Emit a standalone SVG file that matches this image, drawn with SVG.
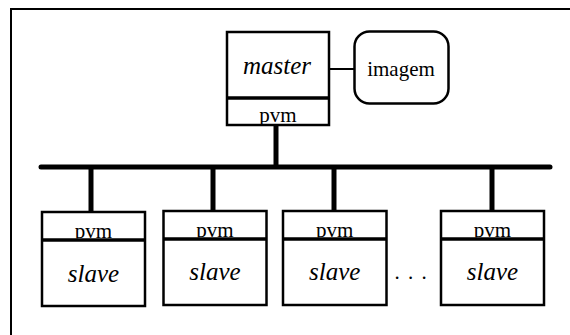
<svg xmlns="http://www.w3.org/2000/svg" width="570" height="335" viewBox="0 0 570 335">
<style>
.box{fill:#fff;stroke:#000;stroke-width:2.5}
.div{stroke:#000;stroke-width:3.5}
.wire{stroke:#000;stroke-width:5;fill:none}
.it{font-family:'Liberation Serif',serif;font-style:italic;font-size:25px;text-anchor:middle}
.rm{font-family:'Liberation Serif',serif;font-size:21px;text-anchor:middle}
</style>
<defs>
<clipPath id="cm"><rect x="228" y="99" width="100" height="25"/></clipPath>
<clipPath id="c1"><rect x="43" y="213" width="101" height="25.5"/></clipPath>
<clipPath id="c2"><rect x="164.5" y="212" width="101" height="25.5"/></clipPath>
<clipPath id="c3"><rect x="284" y="212" width="101.5" height="25.5"/></clipPath>
<clipPath id="c4"><rect x="442" y="212" width="101" height="25.5"/></clipPath>
</defs>
<rect x="11" y="9" width="600" height="400" fill="none" stroke="#000" stroke-width="2"/>
<g id="connectors">
<line x1="329" y1="69" x2="354.5" y2="69" stroke="#000" stroke-width="2"/>
<line class="wire" x1="276" y1="125" x2="276" y2="167"/>
<line class="wire" x1="41" y1="167" x2="550" y2="167" stroke-linecap="round"/>
<line class="wire" x1="91" y1="167" x2="91" y2="212"/>
<line class="wire" x1="213" y1="167" x2="213" y2="211"/>
<line class="wire" x1="334" y1="167" x2="334" y2="211"/>
<line class="wire" x1="492" y1="167" x2="492" y2="211"/>
</g>
<g id="master">
<rect class="box" x="227" y="32" width="102" height="93"/>
<line class="div" x1="227" y1="98" x2="329" y2="98"/>
<text class="it" x="277" y="74">master</text>
<text class="rm" x="278" y="122" clip-path="url(#cm)">pvm</text>
</g>
<g id="imagem">
<rect class="box" x="354.5" y="31.5" width="94" height="72" rx="15"/>
<text class="rm" x="401" y="76">imagem</text>
</g>
<g id="slave1">
<rect class="box" x="42" y="212" width="103" height="94"/>
<line class="div" x1="42" y1="240" x2="145" y2="240"/>
<text class="rm" x="93.5" y="238" clip-path="url(#c1)">pvm</text>
<text class="it" x="93.5" y="282">slave</text>
</g>
<g id="slave2">
<rect class="box" x="163.5" y="211" width="103" height="94"/>
<line class="div" x1="163.5" y1="239" x2="266.5" y2="239"/>
<text class="rm" x="215" y="237" clip-path="url(#c2)">pvm</text>
<text class="it" x="215" y="280">slave</text>
</g>
<g id="slave3">
<rect class="box" x="283" y="211" width="103.5" height="94"/>
<line class="div" x1="283" y1="239" x2="386.5" y2="239"/>
<text class="rm" x="334.7" y="237" clip-path="url(#c3)">pvm</text>
<text class="it" x="334.7" y="280">slave</text>
</g>
<g id="slave4">
<rect class="box" x="441" y="211" width="103" height="94"/>
<line class="div" x1="441" y1="239" x2="544" y2="239"/>
<text class="rm" x="492.5" y="237" clip-path="url(#c4)">pvm</text>
<text class="it" x="492.5" y="280">slave</text>
</g>
<text class="rm" font-size="22" x="397 410.5 424" y="279">...</text>
</svg>
